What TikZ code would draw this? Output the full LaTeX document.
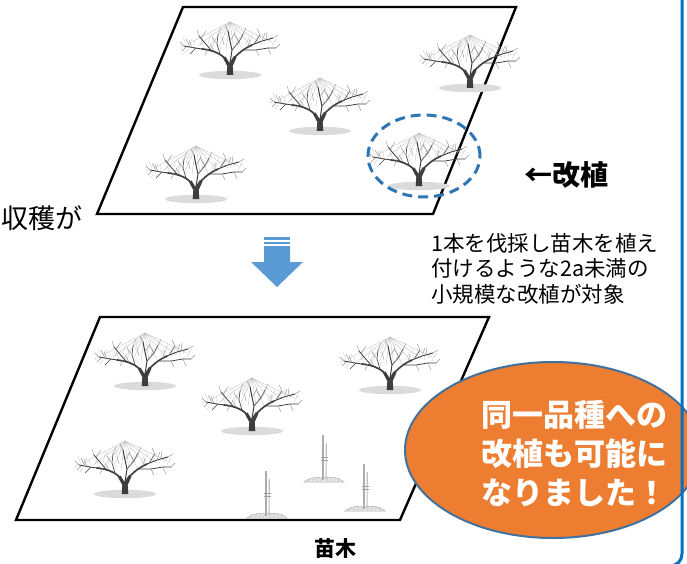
\documentclass[tikz,border=0pt]{standalone}
\usepackage{fontspec}
\newfontfamily\jp{Noto Sans CJK JP}
\usetikzlibrary{shapes.geometric}

\definecolor{plotline}{RGB}{0,0,0}
\definecolor{arrowblue}{RGB}{91,155,213}
\definecolor{dashblue}{RGB}{46,117,182}
\definecolor{framblue}{RGB}{0,112,192}
\definecolor{bubbleorange}{RGB}{237,125,49}
\definecolor{bubbleedge}{RGB}{65,113,156}
\definecolor{barkc}{RGB}{62,62,62}
\definecolor{twigc}{RGB}{150,150,150}

\tikzset{
  field/.style={draw=plotline, line width=2.4pt, fill=white, line join=miter},
  bark/.style={draw=barkc, line cap=round, line join=round},
  twig/.style={draw=twigc, line width=0.45pt, line cap=round},
  fuzz/.style={draw=gray!40, line width=0.35pt, line cap=round},
  wire/.style={draw=gray!55, line width=0.3pt},
  lbl/.style={inner sep=0pt, font=\jp},
  % a pruned apple tree on a trellis, origin at the foot of the trunk
  pics/appletree/.style={code={
    \fill[gray!28] (0,0) ellipse [x radius=31pt, y radius=4.2pt];
    \foreach \x/\y in {-42/-31,-32/-29,-22/-27,-12/-26,-4/-25,4/-25,12/-26,22/-28,32/-31,42/-33}
      \draw[wire] (0,-53) -- (\x,\y);
    % fine brushwood of the crown
    \foreach \a/\b/\c/\d in {-44/-30/-47/-38, -40/-29/-38/-37, -35/-28/-36/-35, -30/-30/-27/-38,
        -26/-27/-29/-34, -22/-31/-20/-40, -18/-27/-15/-35, -16/-33/-19/-42, -10/-36/-7/-44,
        -6/-40/-3/-48, 3/-38/6/-46, 7/-30/10/-38, 11/-35/15/-43, 16/-30/19/-38, 20/-33/23/-41,
        26/-32/28/-40, 29/-35/33/-41, 34/-30/36/-38, 38/-32/41/-38, 42/-29/45/-35,
        -48/-30/-50/-26, -42/-26/-45/-22, 44/-33/47/-37, -8/-28/-11/-24, 8/-24/11/-21}
      \draw[fuzz] (\a,\b) -- (\c,\d);
    \fill[barkc] (-3.3,0) -- (-2.7,-9) -- (-7,-17) -- (-4.5,-18.5) -- (-0.5,-12)
      -- (4,-19) -- (6.5,-17.5) -- (2.7,-9) -- (3.3,0) -- cycle;
    \draw[bark, line width=1.7pt] (-6,-17.5) .. controls (-12,-23) and (-19,-25) .. (-28,-26);
    \draw[bark, line width=0.9pt] (-28,-26) -- (-38,-27.5) -- (-46,-29);
    \draw[bark, line width=0.8pt] (-19,-25) -- (-26,-33) -- (-31,-39);
    \draw[bark, line width=0.6pt] (-10,-21) -- (-13,-31) -- (-12,-40);
    \draw[bark, line width=1.6pt] (5,-18) .. controls (10,-23) and (15,-27) .. (22,-30);
    \draw[bark, line width=0.9pt] (22,-30) -- (32,-34) -- (43,-37);
    \draw[bark, line width=0.8pt] (14,-25) -- (26,-25) -- (38,-27) -- (46,-27);
    \draw[bark, line width=1.0pt] (0,-12) -- (2,-25) -- (0,-34) -- (-2,-44);
    \draw[bark, line width=0.6pt] (2,-25) -- (9,-33) -- (13,-41);
    \draw[bark, line width=0.5pt] (24,-31) -- (30,-40);
    \draw[bark, line width=0.5pt] (-34,-27) -- (-40,-21);
    \foreach \a/\b/\c/\d in {-46/-29/-50/-33, -44/-28/-48/-24, -38/-27/-41/-35, -31/-39/-33/-45,
        -29/-37/-24/-44, -13/-31/-18/-38, -12/-40/-9/-47, -2/-44/-5/-50, 0/-34/5/-42,
        13/-41/16/-47, 9/-33/4/-41, 30/-40/27/-46, 32/-34/35/-42, 43/-37/48/-40,
        46/-27/50/-31, 38/-27/41/-20, 26/-25/29/-19, -22/-26/-25/-20, -16/-24/-20/-31,
        18/-28/20/-36, -6/-30/-8/-38, 6/-29/8/-37, 36/-35/37/-43, -40/-28/-44/-36}
      \draw[twig] (\a,\b) -- (\c,\d);
  }},
  % a freshly planted sapling tied to its stake
  pics/sapling/.style={code={
    \draw[gray!60, line width=0.5pt, fill=gray!20]
      (-19,1) .. controls (-13,-4) and (-6,-4) .. (0,-3) .. controls (6,-4) and (13,-5) .. (21,1) -- cycle;
    \foreach \x in {-15,-11,-7,-3,3,7,11,15}
      \draw[gray!55, line width=0.35pt] (\x,0.5) -- (\x+2,-3);
    \draw[gray!65, line width=1.5pt] (0,-1) -- (0,-46);
    \draw[gray!50, line width=1.1pt] (3,-2) -- (3.3,-38);
    \draw[gray!75, line width=0.7pt] (-2,-21) -- (5,-21);
    \draw[gray!75, line width=0.7pt] (-2,-24) -- (5,-24);
  }}
}

\begin{document}
\begin{tikzpicture}[x=1pt,y=-1pt]
\useasboundingbox (0,0) rectangle (687,564);
\clip (0,0) rectangle (687,564);

% orchard before replanting
\draw[field] (183,7) -- (516,7) -- (433,214) -- (97,214) -- cycle;
\pic at (230,75) {appletree};
\pic at (470,88) {appletree};
\pic at (320,131) {appletree};
\pic at (196,199) {appletree};
\pic at (419,186) {appletree};
\draw[dashblue, line width=3pt, dash pattern=on 10pt off 6pt] (424,156) ellipse [x radius=56pt, y radius=41pt];

% orchard after replanting
\draw[field] (100,317) -- (489,317) -- (400,520) -- (16,520) -- cycle;
\pic at (145,386) {appletree};
\pic at (390,390) {appletree};
\pic at (252,431) {appletree};
\pic at (125,494) {appletree};
\pic at (323,481) {sapling};
\pic at (266,517) {sapling};
\pic at (364,510) {sapling};

% arrow between the two stages
\fill[arrowblue] (264,237) rectangle (290,239.5);
\fill[arrowblue] (264,241.5) rectangle (290,244);
\fill[arrowblue] (264,246) -- (290,246) -- (290,262) -- (303,262) -- (277,287)
  -- (251,262) -- (264,262) -- cycle;

% labels
\node[lbl, font=\jp\bfseries\fontsize{28}{30}\selectfont, anchor=west] (replant) at (524,175) {←改植};
\node[lbl, font=\jp\fontsize{27}{30}\selectfont, anchor=west] (harvest) at (1,218) {収穫が};
\node[lbl, font=\jp\fontsize{21.5}{25.5}\selectfont, anchor=north west, align=left] (note) at (431,233)
  {1本を伐採し苗木を植え\\付けるような2a未満の\\小規模な改植が対象};
\node[lbl, font=\jp\bfseries\fontsize{21}{24}\selectfont] (seedling) at (335,549) {苗木};

% callout
\fill[bubbleorange, draw=bubbleedge, line width=2pt] (553,450) ellipse [x radius=148pt, y radius=88pt];
\node[lbl, font=\jp\bfseries\fontsize{31}{39}\selectfont, text=white, align=center] (callout) at (574,453)
  {同一品種への\\改植も可能に\\なりました！};

% frame edge
\draw[framblue, line width=3pt, rounded corners=12pt] (682,-10) -- (682,566) -- (600,566);
\end{tikzpicture}
\end{document}
